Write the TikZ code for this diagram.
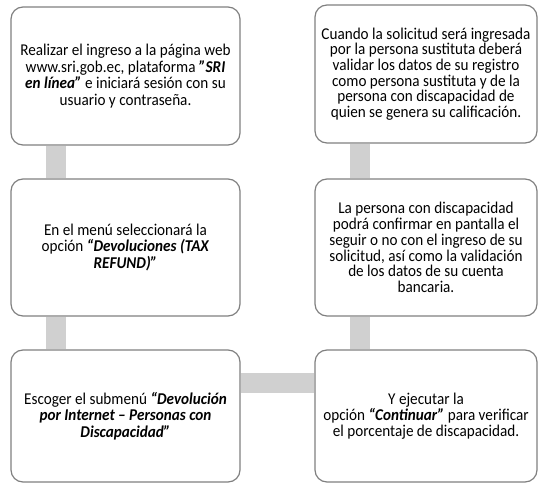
\documentclass[tikz,border=0pt]{standalone}
\usepackage{fontspec}
\setmainfont[FakeStretch=0.92]{Carlito}
\usepackage{tikz}
\usetikzlibrary{backgrounds}
\definecolor{boxgray}{HTML}{808080}
\definecolor{linkgray}{HTML}{D0D0D0}
\tikzset{
  stepbox/.style={draw=boxgray, line width=1.2pt, rounded corners=12pt, fill=white,
    align=center, inner sep=0pt},
  leftbox/.style={stepbox, minimum width=229pt,
    font=\fontsize{16.5}{16.5}\selectfont},
  rightbox/.style={stepbox, minimum width=222pt,
    font=\fontsize{16.5}{15.7}\selectfont},
  link/.style={linkgray, line width=20pt}
}
\newcommand{\bi}[1]{\textbf{\textit{#1}}}

\begin{document}
\begin{tikzpicture}[x=1pt, y=1pt]
    \useasboundingbox (0,0) rectangle (538,483);
    % LEFT column
    \node[leftbox, minimum height=138pt] (ingreso) at (125.5,407) {Realizar el ingreso a la página web\\www.sri.gob.ec, plataforma \bi{"SRI}\\\bi{en línea"} e iniciará sesión con su\\usuario y contraseña.};
    \node[leftbox, minimum height=137pt] (menu) at (125.5,235.5) {En el menú seleccionará la\\opción \bi{“Devoluciones (TAX}\\\bi{REFUND)”}};
    \node[leftbox, minimum height=132pt] (submenu) at (125.5,67) {Escoger el submenú \bi{“Devolución}\\\bi{por Internet – Personas con}\\\bi{Discapacidad”}};

    % RIGHT column
    \node[rightbox, minimum height=138pt] (sustituta) at (426,409) {Cuando la solicitud será ingresada\\por la persona sustituta deberá\\validar los datos de su registro\\como persona sustituta y de la\\persona con discapacidad de\\quien se genera su calificación.};
    \node[rightbox, minimum height=137pt] (confirmar) at (426,235.5) {La persona con discapacidad\\podrá confirmar en pantalla el\\seguir o no con el ingreso de su\\solicitud, así como la validación\\de los datos de su cuenta\\bancaria.};
    \node[rightbox, minimum height=132pt] (continuar) at (426,67) {Y ejecutar la\\opción \bi{“Continuar”} para verificar\\el porcentaje de discapacidad.};

    % Connectors
    \begin{scope}[on background layer]
        \draw[link] ([xshift=46pt]ingreso.south west) -- ([xshift=46pt]menu.north west);
        \draw[link] ([xshift=46pt]menu.south west) -- ([xshift=46pt]submenu.north west);
        \draw[link] ([yshift=-34pt]submenu.north east) -- ([yshift=-34pt]continuar.north west);
        \draw[link] ([xshift=46pt]continuar.north west) -- ([xshift=46pt]confirmar.south west);
        \draw[link] ([xshift=46pt]confirmar.north west) -- ([xshift=46pt]sustituta.south west);
    \end{scope}
\end{tikzpicture}
\end{document}
